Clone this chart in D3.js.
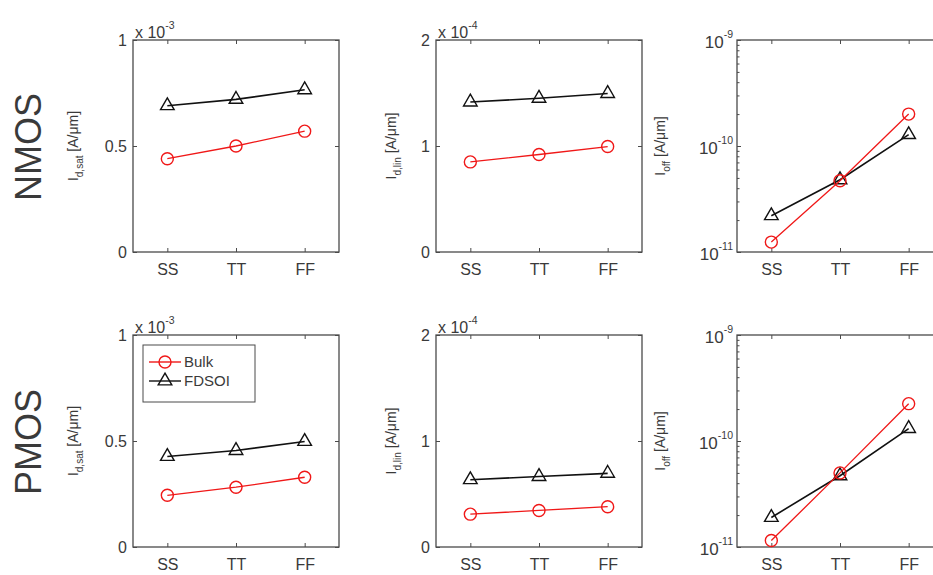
<!DOCTYPE html>
<html><head><meta charset="utf-8">
<script src="https://cdn.jsdelivr.net/npm/d3@7"></script>
<style>
body{margin:0;background:#fff;}
svg{display:block;font-family:"Liberation Sans",Arial,sans-serif;}
</style></head>
<body><svg id="c" width="933" height="575"></svg>
<script>
const categories = ["SS","TT","FF"];
const rowLabels = ["NMOS","PMOS"];
const seriesNames = ["Bulk","FDSOI"];

// NMOS
const nIdsatBulk  = [0.44, 0.50, 0.57];   // x 1e-3
const nIdsatFDSOI = [0.69, 0.72, 0.765];
const nIdlinBulk  = [0.85, 0.92, 0.995];  // x 1e-4
const nIdlinFDSOI = [1.415, 1.45, 1.495];
const nIoffBulk   = [1.24e-11, 4.7e-11, 2.0e-10];
const nIoffFDSOI  = [2.2e-11, 4.8e-11, 1.28e-10];
// PMOS
const pIdsatBulk  = [0.244, 0.282, 0.329];
const pIdsatFDSOI = [0.427, 0.455, 0.498];
const pIdlinBulk  = [0.31, 0.345, 0.38];
const pIdlinFDSOI = [0.635, 0.665, 0.695];
const pIoffBulk   = [1.15e-11, 5.0e-11, 2.25e-10];
const pIoffFDSOI  = [1.9e-11, 4.7e-11, 1.31e-10];

const linTicks1 = [0, 0.5, 1];
const linTicks2 = [0, 1, 2];
const logMajor = [1e-11, 1e-10, 1e-9];

const svg = d3.select("#c");
const TXT = "#3a3a3a", AX = "#4a4a4a";
const colLeft = [133, 436, 737], rowTop = [40, 335], W = 206, H = 212;

const panels = [
  {r:0,c:0,type:"lin",dom:[0,1],ticks:linTicks1,exp:"-3",lab:["d,sat"],b:nIdsatBulk,f:nIdsatFDSOI,lx:78},
  {r:0,c:1,type:"lin",dom:[0,2],ticks:linTicks2,exp:"-4",lab:["d,lin"],b:nIdlinBulk,f:nIdlinFDSOI,lx:396},
  {r:0,c:2,type:"log",dom:[1e-11,1e-9],ticks:logMajor,lab:["off"],b:nIoffBulk,f:nIoffFDSOI,lx:665},
  {r:1,c:0,type:"lin",dom:[0,1],ticks:linTicks1,exp:"-3",lab:["d,sat"],b:pIdsatBulk,f:pIdsatFDSOI,lx:78,legend:true},
  {r:1,c:1,type:"lin",dom:[0,2],ticks:linTicks2,exp:"-4",lab:["d,lin"],b:pIdlinBulk,f:pIdlinFDSOI,lx:396},
  {r:1,c:2,type:"log",dom:[1e-11,1e-9],ticks:logMajor,lab:["off"],b:pIoffBulk,f:pIoffFDSOI,lx:665},
];

const tri = d3.symbol(d3.symbolTriangle, 80);

panels.forEach(p => {
  const x0 = colLeft[p.c], y0 = rowTop[p.r];
  const g = svg.append("g").attr("transform", `translate(${x0},${y0})`);
  const x = d3.scalePoint().domain(categories).range([0, W]).padding(0.5);
  const y = (p.type === "log" ? d3.scaleLog() : d3.scaleLinear()).domain(p.dom).range([H, 0]);

  g.append("g").attr("transform", `translate(0,${H})`)
    .call(d3.axisBottom(x).tickSizeInner(-4).tickSizeOuter(0).tickPadding(12));
  g.append("g").call(d3.axisTop(x).tickSizeInner(-4).tickSizeOuter(0).tickFormat(""));
  if (p.type === "log") {
    const minor = y.ticks().filter(v => !p.ticks.some(t => Math.abs(t - v) / t < 1e-6));
    g.append("g").call(d3.axisLeft(y).tickValues(minor).tickSizeInner(-2.5).tickSizeOuter(0).tickFormat(""));
    g.append("g").attr("transform", `translate(${W},0)`).call(d3.axisRight(y).tickValues(minor).tickSizeInner(-2.5).tickSizeOuter(0).tickFormat(""));
    g.append("g").call(d3.axisLeft(y).tickValues(p.ticks).tickSizeInner(-4).tickSizeOuter(0).tickFormat(""));
    g.append("g").attr("transform", `translate(${W},0)`).call(d3.axisRight(y).tickValues(p.ticks).tickSizeInner(-4).tickSizeOuter(0).tickFormat(""));
    const lab = g.append("g");
    p.ticks.forEach(t => {
      const e = Math.round(Math.log10(t));
      const tx = lab.append("text").attr("x", -4).attr("y", y(t) + 8)
        .attr("text-anchor", "end").attr("fill", TXT).attr("font-size", 17);
      tx.append("tspan").text("10");
      tx.append("tspan").text(String(e)).attr("font-size", 10.5).attr("dy", -10);
    });
  } else {
    g.append("g").call(d3.axisLeft(y).tickValues(p.ticks).tickSizeInner(-4).tickSizeOuter(0).tickPadding(6).tickFormat(d3.format("")));
    g.append("g").attr("transform", `translate(${W},0)`).call(d3.axisRight(y).tickValues(p.ticks).tickSizeInner(-4).tickSizeOuter(0).tickFormat(""));
    const ex = g.append("text").attr("x", 2).attr("y", -2).attr("fill", TXT).attr("font-size", 16);
    ex.append("tspan").text("x 10");
    ex.append("tspan").text(p.exp).attr("font-size", 10.5).attr("dy", -9);
  }
  g.selectAll(".domain").remove();
  g.selectAll(".tick line").attr("stroke", AX);
  g.selectAll(".tick text").attr("fill", TXT).attr("font-size", 16).attr("font-family", '"Liberation Sans",Arial,sans-serif');
  g.append("rect").attr("width", W).attr("height", H).attr("fill", "none").attr("stroke", AX).attr("stroke-width", 1.3);

  const yt = svg.append("text").attr("transform", `translate(${p.lx},${y0 + H / 2}) rotate(-90)`)
    .attr("text-anchor", "middle").attr("fill", TXT).attr("font-size", 14);
  yt.append("tspan").text("I");
  yt.append("tspan").text(p.lab[0]).attr("font-size", 10).attr("dy", 5);
  yt.append("tspan").text(" [A/\u03bcm]").attr("dy", -5);

  const line = d3.line().x((d, i) => x(categories[i])).y(d => y(d));
  g.append("path").datum(p.f).attr("d", line).attr("fill", "none").attr("stroke", "#111").attr("stroke-width", 1.6);
  g.selectAll(".tri").data(p.f).enter().append("path")
    .attr("d", tri).attr("transform", (d, i) => `translate(${x(categories[i])},${y(d)})`)
    .attr("fill", "none").attr("stroke", "#111").attr("stroke-width", 1.4);
  g.append("path").datum(p.b).attr("d", line).attr("fill", "none").attr("stroke", "#f01818").attr("stroke-width", 1.3);
  g.selectAll(".circ").data(p.b).enter().append("circle")
    .attr("cx", (d, i) => x(categories[i])).attr("cy", d => y(d)).attr("r", 6)
    .attr("fill", "none").attr("stroke", "#f01818").attr("stroke-width", 1.4);

  if (p.legend) {
    const lg = g.append("g").attr("transform", "translate(10,10)");
    lg.append("rect").attr("width", 112).attr("height", 57).attr("fill", "#fff").attr("stroke", AX).attr("stroke-width", 1);
    const items = [{n: seriesNames[0], c: "#f01818", m: "c"}, {n: seriesNames[1], c: "#111", m: "t"}];
    items.forEach((it, i) => {
      const yy = 17 + i * 19;
      lg.append("line").attr("x1", 6).attr("x2", 38).attr("y1", yy).attr("y2", yy).attr("stroke", it.c).attr("stroke-width", 1.4);
      if (it.m === "c") lg.append("circle").attr("cx", 22).attr("cy", yy).attr("r", 6).attr("fill", "none").attr("stroke", it.c).attr("stroke-width", 1.4);
      else lg.append("path").attr("d", tri).attr("transform", `translate(22,${yy})`).attr("fill", "none").attr("stroke", it.c).attr("stroke-width", 1.4);
      lg.append("text").attr("x", 41).attr("y", yy + 5).attr("fill", TXT).attr("font-size", 15).text(it.n);
    });
  }
});

rowLabels.forEach((t, i) => {
  svg.append("text").attr("transform", `translate(41,${rowTop[i] + H / 2 + 1}) rotate(-90)`)
    .attr("text-anchor", "middle").attr("fill", "#3a3a3a").attr("font-size", 36).text(t);
});
</script></body></html>
